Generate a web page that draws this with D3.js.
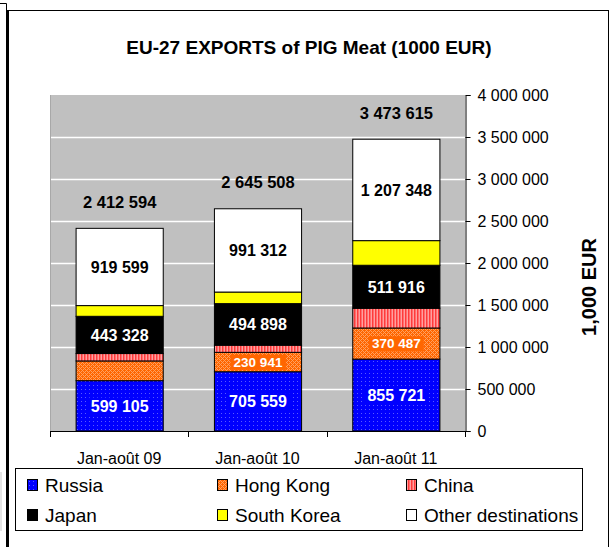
<!DOCTYPE html>
<html>
<head>
<meta charset="utf-8">
<script src="https://cdn.jsdelivr.net/npm/d3@7"></script>
<style>
  html, body { margin: 0; padding: 0; background: #fff; }
  svg { display: block; font-family: "Liberation Sans", Arial, sans-serif; }
</style>
</head>
<body>
<svg id="chart" width="611" height="547"></svg>
<script>
// EU-27 pig meat exports by destination, January–August, in 1000 EUR
const categories = ["Jan-août 09", "Jan-août 10", "Jan-août 11"];
const russia     = [599105, 705559, 855721];
const hongKong   = [235000, 230941, 370487];
const china      = [88000, 85000, 235000];
const japan      = [443328, 494898, 511916];
const southKorea = [127562, 137798, 293143];
const otherDest  = [919599, 991312, 1207348];
const totals     = [2412594, 2645508, 3473615];
const yTicks     = [0, 500000, 1000000, 1500000, 2000000, 2500000, 3000000, 3500000, 4000000];

const seriesNames = ["Russia", "Hong Kong", "China", "Japan", "South Korea", "Other destinations"];
const seriesValues = [russia, hongKong, china, japan, southKorea, otherDest];
// which segments carry a value label
const labelShown = [
  [true, true, true],
  [false, true, true],
  [false, false, false],
  [true, true, true],
  [false, false, false],
  [true, true, true]
];

const fmt = d3.formatLocale({ decimal: ",", thousands: " ", grouping: [3], currency: ["", ""] }).format(",d");

const svg = d3.select("#chart");
const defs = svg.append("defs");

// Fill patterns
const pRus = defs.append("pattern").attr("id", "p-russia").attr("patternUnits", "userSpaceOnUse")
  .attr("width", 4).attr("height", 4);
pRus.append("rect").attr("width", 4).attr("height", 4).attr("fill", "#0000ff");
pRus.append("rect").attr("x", 1).attr("y", 1).attr("width", 1).attr("height", 1).attr("fill", "#5a5aff");

const pHK = defs.append("pattern").attr("id", "p-hk").attr("patternUnits", "userSpaceOnUse")
  .attr("width", 4).attr("height", 4);
pHK.append("rect").attr("width", 4).attr("height", 4).attr("fill", "#ff6600");
[[0,0],[2,0],[1,1],[3,1],[0,2],[2,2],[1,3],[3,3]].forEach(([x, y], i) => {
  if ((x + y) % 4 === 0 || (x === 1 && y === 1) || (x === 3 && y === 3))
    pHK.append("rect").attr("x", x).attr("y", y).attr("width", 1).attr("height", 1).attr("fill", "#ffa060");
});

const pCN = defs.append("pattern").attr("id", "p-china").attr("patternUnits", "userSpaceOnUse")
  .attr("width", 3).attr("height", 3);
pCN.append("rect").attr("width", 3).attr("height", 3).attr("fill", "#ffa0a0");
pCN.append("rect").attr("width", 1.5).attr("height", 3).attr("fill", "#ff3b3b");

const fills = ["url(#p-russia)", "url(#p-hk)", "url(#p-china)", "#000000", "#ffff00", "#ffffff"];
const labelBg = ["#0000ff", "#ff6600", null, null, null, null];
const labelColor = ["#ffffff", "#ffffff", "#000000", "#ffffff", "#000000", "#000000"];
const labelSize = [16, 13.5, 16, 16, 16, 16];

// Outer frame
svg.append("path").attr("d", "M0,3.5H6.5V547").attr("fill", "none").attr("stroke", "#000").attr("stroke-width", 1);
svg.append("line").attr("x1", 1).attr("x2", 1).attr("y1", 472).attr("y2", 531).attr("stroke", "#c8c8c8");
svg.append("rect").attr("x", 8).attr("y", 10.5).attr("width", 600.5).attr("height", 560)
  .attr("fill", "#fff").attr("stroke", "#000").attr("stroke-width", 1);
svg.append("line").attr("x1", 8).attr("x2", 8).attr("y1", 10).attr("y2", 547).attr("stroke", "#000").attr("stroke-width", 2);

// Title
svg.append("text").attr("x", 309).attr("y", 54).attr("text-anchor", "middle")
  .attr("font-size", 19).attr("font-weight", "bold").text("EU-27 EXPORTS of PIG Meat (1000 EUR)");

// Scales
const plot = { left: 50, right: 465, top: 95, bottom: 431 };
const x = d3.scaleBand().domain(categories).range([plot.left, plot.right])
  .paddingInner(0.37).paddingOuter(0.185);
const y = d3.scaleLinear().domain([0, 4000000]).range([plot.bottom, plot.top]);

// Plot area background and gridlines
svg.append("rect").attr("x", plot.left).attr("y", plot.top)
  .attr("width", plot.right - plot.left).attr("height", plot.bottom - plot.top).attr("fill", "#c0c0c0");
svg.append("line").attr("x1", plot.left + 0.5).attr("x2", plot.left + 0.5).attr("y1", plot.top).attr("y2", plot.bottom)
  .attr("stroke", "#a8a8a8");
svg.append("g").selectAll("line").data(yTicks.filter(t => t > 0 && t < 4000000)).join("line")
  .attr("x1", plot.left + 1).attr("x2", plot.right)
  .attr("y1", d => Math.round(y(d)) + 0.5).attr("y2", d => Math.round(y(d)) + 0.5)
  .attr("stroke", "#ffffff").attr("stroke-width", 1.5);

// Stack the series
const rows = categories.map((c, i) => {
  const r = { cat: c };
  seriesNames.forEach((s, k) => r[s] = seriesValues[k][i]);
  return r;
});
const stacked = d3.stack().keys(seriesNames)(rows);

const barG = svg.append("g");
stacked.forEach((layer, k) => {
  barG.append("g").selectAll("rect").data(layer).join("rect")
    .attr("x", d => x(d.data.cat) + 0.5)
    .attr("width", x.bandwidth())
    .attr("y", d => y(d[1]))
    .attr("height", d => y(d[0]) - y(d[1]))
    .attr("fill", fills[k])
    .attr("stroke", "#000").attr("stroke-width", 1);
});

// Segment value labels
const labelG = svg.append("g").attr("font-weight", "bold").attr("text-anchor", "middle");
stacked.forEach((layer, k) => {
  layer.forEach((d, i) => {
    if (!labelShown[k][i]) return;
    const cx = x(d.data.cat) + x.bandwidth() / 2 + 0.5;
    const cy = (y(d[0]) + y(d[1])) / 2;
    const t = labelG.append("text").attr("x", cx).attr("y", cy).attr("dy", "0.36em")
      .attr("font-size", labelSize[k]).attr("fill", labelColor[k]).text(fmt(d.data[seriesNames[k]]));
    if (labelBg[k]) {
      const bb = t.node().getBBox();
      labelG.insert("rect", "text").attr("x", bb.x - 3).attr("y", bb.y)
        .attr("width", bb.width + 6).attr("height", bb.height).attr("fill", labelBg[k]);
    }
  });
});
labelG.selectAll("rect").lower();
labelG.selectAll("text").raise();

// Totals above the bars
svg.append("g").attr("font-weight", "bold").attr("text-anchor", "middle").attr("font-size", 16.5)
  .selectAll("text").data(categories).join("text")
  .attr("x", c => x(c) + x.bandwidth() / 2 + 0.5)
  .attr("y", (c, i) => y(totals[i]) - 26.5).attr("dy", "0.36em")
  .text((c, i) => fmt(totals[i]));

// Value axis on the right
const yAxis = d3.axisRight(y).tickValues(yTicks).tickSize(5).tickPadding(7).tickFormat(fmt);
const yG = svg.append("g").attr("transform", `translate(${plot.right + 0.5},0)`).call(yAxis);
yG.select(".domain").attr("stroke", "#000");
yG.selectAll(".tick line").attr("stroke", "#000");
yG.selectAll(".tick text").attr("font-size", 16).attr("font-family", "Liberation Sans, Arial, sans-serif").attr("fill", "#000");

svg.append("text").attr("transform", "translate(596,287) rotate(-90)").attr("text-anchor", "middle")
  .attr("font-size", 20).attr("font-weight", "bold").text("1,000 EUR");

// Category axis
svg.append("line").attr("x1", plot.left).attr("x2", plot.right + 1)
  .attr("y1", plot.bottom + 0.5).attr("y2", plot.bottom + 0.5).attr("stroke", "#000");
const boundaries = categories.map(c => x(c) - x.step() * x.paddingInner() / 2).concat([plot.right]);
svg.append("g").selectAll("line").data(boundaries).join("line")
  .attr("x1", d => Math.round(d) + 0.5).attr("x2", d => Math.round(d) + 0.5)
  .attr("y1", plot.bottom).attr("y2", plot.bottom + 6).attr("stroke", "#000");
svg.append("g").attr("text-anchor", "middle").attr("font-size", 16)
  .selectAll("text").data(categories).join("text")
  .attr("x", c => x(c) + x.bandwidth() / 2).attr("y", 458).attr("dy", "0.36em").text(c => c);

// Legend
svg.append("rect").attr("x", 15.5).attr("y", 468.5).attr("width", 567).attr("height", 62)
  .attr("fill", "#fff").attr("stroke", "#000");
const legendCols = [27, 217, 406];
const legendRows = [485, 515];
const legendG = svg.append("g").attr("font-size", 19);
seriesNames.forEach((s, k) => {
  const lx = legendCols[k % 3], ly = legendRows[Math.floor(k / 3)];
  legendG.append("rect").attr("x", lx + 0.5).attr("y", ly - 5.5).attr("width", 10).attr("height", 11)
    .attr("fill", fills[k]).attr("stroke", "#000");
  legendG.append("text").attr("x", lx + 18).attr("y", ly).attr("dy", "0.36em").text(s);
});
</script>
</body>
</html>
